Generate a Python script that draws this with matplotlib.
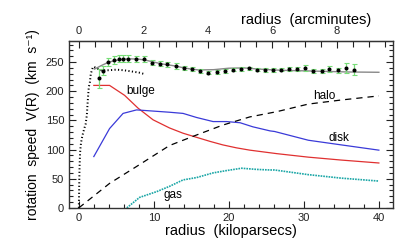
import numpy as np
import matplotlib
matplotlib.use("Agg")
import matplotlib.pyplot as plt
from matplotlib.ticker import MultipleLocator

plt.rcParams['font.family'] = ['Liberation Sans', 'DejaVu Sans']

# kpc per arcminute for the top axis
KPC_PER_ARCMIN = 4.3

# observed rotation speeds with errors (kpc, km/s)
obs_r = [2.7, 3.2, 3.9, 4.7, 5.4, 5.9, 6.5, 7.6, 8.7, 9.8, 10.8, 11.8,
         12.9, 14.0, 15.1, 16.1, 17.2, 18.4, 19.5, 20.5, 21.6, 22.7, 23.7,
         24.8, 25.9, 26.9, 28.0, 29.1, 30.1, 31.2, 32.4, 33.4, 34.5, 35.6, 36.7]
obs_v = [222, 235, 250, 254, 256, 256, 256, 255, 255, 249, 247, 246,
         243, 240, 238, 235, 232, 233, 235, 237, 238, 239, 237,
         236, 236, 237, 238, 238, 240, 235, 235, 238, 236, 240, 237]
obs_err = [16, 8, 7, 7, 6, 6, 6, 5, 5, 4, 4, 4,
           5, 3, 3, 3, 3, 3, 3, 3, 3, 3, 3,
           3, 3, 3, 3, 3, 5, 3, 3, 5, 4, 8, 10]

# high resolution inner curve
inner_r = [0.0, 0.03, 0.06, 0.1, 0.15, 0.2, 0.3, 0.45, 0.6, 0.75, 0.9, 1.07,
           1.2, 1.33, 1.47, 1.6, 1.75, 1.87, 2.0, 2.3, 2.7, 3.0, 3.5, 4.0,
           5.0, 6.0, 7.0, 8.0, 8.6]
inner_v = [0, 20, 45, 70, 88, 100, 112, 122, 130, 137, 143, 159,
           185, 207, 215, 230, 236, 241, 242, 240, 237, 236, 236, 236,
           237, 236, 234, 232, 230]

# total model fit
fit_r = [2.1, 3.0, 4.0, 5.0, 6.0, 7.0, 8.0, 9.0, 10.0, 11.0, 12.0, 13.0,
         14.0, 15.0, 16.0, 18.0, 20.0, 22.0, 24.0, 26.0, 28.0, 30.0, 33.0,
         36.0, 40.0]
fit_v = [238, 244, 250, 253, 255, 255.5, 255, 253, 250, 247, 245, 243,
         240, 238, 236.5, 237, 239.5, 240, 238, 236.5, 235.5, 235, 234,
         233, 232.5]

# model components
bulge_r = [2.0, 4.1, 6.1, 7.9, 9.9, 12.1, 13.9, 15.7, 17.5, 19.2, 21.0,
           22.8, 24.6, 26.4, 30.6, 35.0, 40.0]
bulge_v = [210, 210, 193, 171, 151, 137, 128, 121, 114, 108, 103,
           99, 96, 93, 87, 82, 77]

disk_r = [2.0, 4.1, 5.9, 7.7, 9.9, 12.1, 13.9, 15.7, 17.9, 19.7, 21.5,
          23.2, 25.5, 26.1, 30.6, 35.0, 40.0]
disk_v = [88, 136, 162, 168, 166, 164, 162, 155, 148, 148, 146,
          139, 132, 131, 116, 108, 99]

halo_r = [0.0, 4.1, 7.7, 12.1, 15.7, 19.2, 22.8, 26.4, 30.6, 35.0, 40.0]
halo_v = [0, 42, 71, 107, 125, 142, 156, 165, 178, 185, 192]

gas_r = [6.4, 8.1, 10.4, 12.1, 13.9, 15.7, 17.9, 19.7, 21.7, 23.7, 25.5,
         26.1, 30.6, 35.0, 40.0]
gas_v = [0, 18, 28, 37, 48, 52, 60, 64, 68, 66, 65,
         65, 57, 51, 46]

fig = plt.figure(figsize=(4.16, 2.52), dpi=100)
ax = fig.add_axes([0.166, 0.175, 0.779, 0.662])

ax.plot(fit_r, fit_v, color='#888888', lw=1.0, zorder=2)
ax.plot(inner_r, inner_v, color='black', lw=1.4, ls=(0, (0.6, 1.2)), zorder=3)
ax.errorbar(obs_r, obs_v, yerr=obs_err, fmt='o', ms=1.9, color='black',
            ecolor='#77dd77', elinewidth=0.9, capsize=1.8, capthick=0.8, zorder=4)

ax.plot(bulge_r, bulge_v, color='#e03030', lw=0.9)
ax.plot(disk_r, disk_v, color='#3a3ad8', lw=0.9)
ax.plot(halo_r, halo_v, color='black', lw=0.9, ls=(0, (5, 4)))
ax.plot(gas_r, gas_v, color='#1aa6a6', lw=1.2, ls=(0, (1, 0.6)))

ax.text(6.3, 201, 'bulge', fontsize=8.5, va='center')
ax.text(33.3, 120, 'disk', fontsize=8.5, va='center')
ax.text(31.2, 191, 'halo', fontsize=8.5, va='center')
ax.text(11.3, 22, 'gas', fontsize=8.5, va='center')

ax.set_xlim(-1.3, 41.9)
ax.set_ylim(0, 286)

ax.xaxis.set_major_locator(MultipleLocator(10))
ax.xaxis.set_minor_locator(MultipleLocator(2))
ax.yaxis.set_major_locator(MultipleLocator(50))
ax.yaxis.set_minor_locator(MultipleLocator(10))
ax.tick_params(which='both', direction='in', right=True, labelsize=8, colors='#222222')
ax.tick_params(which='major', length=5, width=0.8)
ax.tick_params(which='minor', length=3, width=0.8)

top = ax.secondary_xaxis('top', functions=(lambda r: r / KPC_PER_ARCMIN,
                                           lambda a: a * KPC_PER_ARCMIN))
top.xaxis.set_major_locator(MultipleLocator(2))
top.xaxis.set_minor_locator(MultipleLocator(0.5))
top.tick_params(which='both', direction='in', labelsize=8, colors='#222222')
top.tick_params(which='major', length=5, width=0.8)
top.tick_params(which='minor', length=4, width=0.8)

for s in ax.spines.values():
    s.set_linewidth(1.0)
    s.set_color('#333333')

ax.set_xlabel('radius  (kiloparsecs)', fontsize=10.5, labelpad=1)
ax.set_ylabel('rotation  speed  V(R)  (km  s⁻¹)', fontsize=10, labelpad=4)
fig.text(0.735, 0.92, 'radius  (arcminutes)', fontsize=10.5, ha='center', va='center')

fig.savefig('out.png', dpi=100)
